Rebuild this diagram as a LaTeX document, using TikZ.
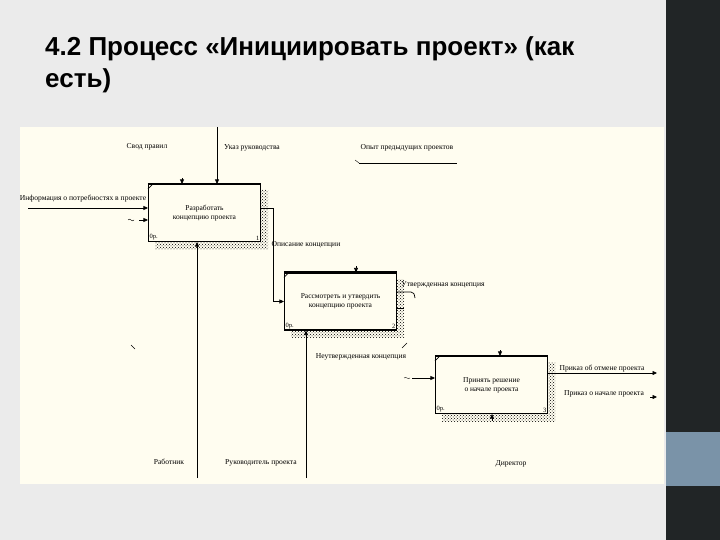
\documentclass[tikz,border=0pt]{standalone}
\usepackage{fontspec}
\setmainfont{Liberation Serif}
\newfontfamily\titlefont{Liberation Sans}
\usetikzlibrary{arrows.meta,patterns}
\definecolor{slidebg}{HTML}{EBEBEB}
\definecolor{panel}{HTML}{FFFDF0}
\definecolor{strip}{HTML}{212526}
\definecolor{stripblue}{HTML}{7A93A8}
\tikzset{
  box/.style={draw,line width=1.1pt,fill=panel,minimum width=112pt,minimum height=57pt,
    inner sep=0pt,align=center,font=\fontsize{7.5}{9}\selectfont},
  hatch/.style={pattern=crosshatch dots,pattern color=black},
  flow/.style={-{Triangle[length=4.5pt,width=4pt]},line width=0.7pt},
  wire/.style={line width=0.7pt},
  squig/.style={line width=0.4pt},
  lbl/.style={font=\fontsize{7.6}{9}\selectfont,inner sep=0pt,anchor=base},
  tag/.style={font=\fontsize{6.5}{7}\selectfont,inner sep=1.5pt},
  ttl/.style={font=\titlefont\bfseries\fontsize{26}{31}\selectfont,inner sep=0pt,anchor=base west}
}
\begin{document}
\begin{tikzpicture}[x=1pt,y=-1pt]
  % slide
  \fill[slidebg] (0,0) rectangle (666,540);
  \fill[strip] (666,0) rectangle (720,540);
  \fill[stripblue] (666,432) rectangle (720,486);
  \useasboundingbox (0,0) rectangle (720,540);
  \node[ttl] (title) at (45,56) {4.2 Процесс «Инициировать проект» (как};
  \node[ttl] (title2) at (45,88) {есть)};
  % diagram panel
  \fill[panel] (20,127) rectangle (664,484);

  % boxes with shadows
  \fill[hatch] (155,190) rectangle (268,249);
  \node[box] (b1) at (204.5,213) {Разработать\\концепцию проекта};
  \fill[hatch] (291,279) rectangle (404,337);
  \node[box] (b2) at (340.5,301.5) {Рассмотреть и утвердить\\концепцию проекта};
  \fill[hatch] (442,362) rectangle (555,421);
  \node[box] (b3) at (491.5,385) {Принять решение\\о начале проекта};
  \foreach \b/\k in {b1/1,b2/2,b3/3}{
    \draw[line width=2pt] (\b.north west) -- (\b.north east);
    \draw[line width=0.6pt] ([yshift=-5pt]\b.north west) -- ([xshift=5pt]\b.north west);
    \node[tag,anchor=south west] (\b n) at (\b.south west) {0р.};
    \node[tag,anchor=south east] (\b k) at (\b.south east) {\k};
  }

  % inputs and controls of box 1
  \coordinate (inf) at (28,208);
  \draw[flow] (inf) -- (inf -| b1.west);
  \node[lbl] (linf) at (83,201) {Информация о потребностях в проекте};
  \coordinate (inb) at (139,220);
  \draw[flow] (inb) -- (inb -| b1.west);
  \draw[squig] (128,220) .. controls (130,217) and (132,223) .. (134,220);
  \coordinate (ukaz) at (217,127);
  \draw[flow] (ukaz) -- (ukaz |- b1.north);
  \node[lbl] (lukaz) at (252,150) {Указ руководства};
  \coordinate (svod) at (182,178);
  \draw[flow] (svod) -- (svod |- b1.north);
  \node[lbl] (lsvod) at (147,149) {Свод правил};
  \coordinate (op1) at (359,163);
  \coordinate (op2) at (457,163);
  \draw[wire] (op1) -- (op2);
  \draw[squig] (355,160) -- (359,163);
  \node[lbl] (lop) at (407,150) {Опыт предыдущих проектов};

  % box 1 to box 2
  \coordinate (tw) at (273,208);
  \draw[flow] (b1.east |- tw) -- (tw) |- (b2.west);
  \node[lbl] (lopis) at (306,246) {Описание концепции};
  \coordinate (c2) at (356,266);
  \draw[flow] (c2) -- (c2 |- b2.north);

  % outputs of box 2
  \coordinate (ut) at (411,292);
  \draw[wire] (b2.east |- ut) -- (ut) .. controls (414,293) .. (415,298);
  \node[lbl] (lut) at (443,286) {Утвержденная концепция};
  \coordinate (nut) at (404,308);
  \draw[wire] (b2.east |- nut) -- (nut);
  \draw[squig] (402,348) -- (407,343);
  \node[lbl] (lnut) at (361,358) {Неутвержденная концепция};

  % mechanisms
  \coordinate (rab) at (197,478);
  \draw[flow] (rab) -- (rab |- b1.south);
  \node[lbl] (lrab) at (169,464) {Работник};
  \coordinate (ruk) at (306,478);
  \draw[flow] (ruk) -- (ruk |- b2.south);
  \node[lbl] (lruk) at (261,464) {Руководитель проекта};
  \draw[squig] (131,345) -- (135,349);

  % box 3
  \coordinate (in3) at (412,378);
  \draw[flow] (in3) -- (in3 -| b3.west);
  \draw[squig] (404,378) .. controls (406,376) and (408,380) .. (410,378);
  \coordinate (c3) at (500,350);
  \draw[flow] (c3) -- (c3 |- b3.north);
  \coordinate (m3) at (492,421);
  \draw[flow] (m3) -- (m3 |- b3.south);
  \node[lbl] (ldir) at (511,465) {Директор};
  \coordinate (out3) at (657,373);
  \draw[flow] (out3 -| b3.east) -- (out3);
  \node[lbl] (lotm) at (602,370) {Приказ об отмене проекта};
  \coordinate (out3b) at (657,397);
  \draw[flow] ([xshift=-7pt]out3b) -- (out3b);
  \node[lbl] (lnach) at (604,395) {Приказ о начале проекта};
\end{tikzpicture}
\end{document}
